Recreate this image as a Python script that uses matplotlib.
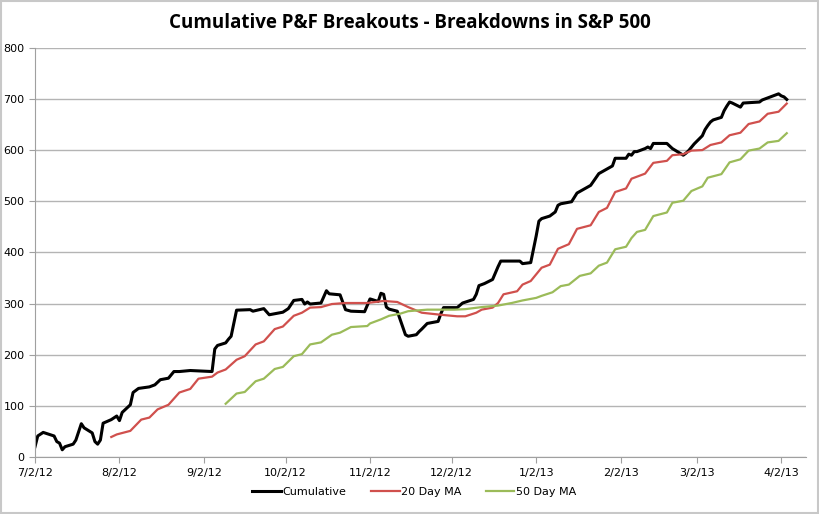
import pandas as pd
import matplotlib
matplotlib.use("Agg")
import matplotlib.pyplot as plt

# Cumulative breakouts minus breakdowns
cum_dates = ["2012-07-02", "2012-07-03", "2012-07-05", "2012-07-09", "2012-07-10", "2012-07-11",
             "2012-07-12", "2012-07-13", "2012-07-16", "2012-07-17", "2012-07-19", "2012-07-20",
             "2012-07-23", "2012-07-24", "2012-07-25", "2012-07-26", "2012-07-27", "2012-07-30",
             "2012-08-01", "2012-08-02", "2012-08-03", "2012-08-06", "2012-08-07", "2012-08-09",
             "2012-08-13", "2012-08-15", "2012-08-17", "2012-08-20", "2012-08-22", "2012-08-24",
             "2012-08-28", "2012-09-05", "2012-09-06", "2012-09-07", "2012-09-10", "2012-09-11",
             "2012-09-12", "2012-09-14", "2012-09-19", "2012-09-20", "2012-09-24", "2012-09-26",
             "2012-09-28", "2012-10-01", "2012-10-03", "2012-10-05", "2012-10-08", "2012-10-09",
             "2012-10-10", "2012-10-11", "2012-10-15", "2012-10-17", "2012-10-18", "2012-10-22",
             "2012-10-24", "2012-10-26", "2012-10-31", "2012-11-02", "2012-11-05", "2012-11-06",
             "2012-11-07", "2012-11-08", "2012-11-09", "2012-11-12", "2012-11-15", "2012-11-16",
             "2012-11-19", "2012-11-20", "2012-11-21", "2012-11-23", "2012-11-27", "2012-11-28",
             "2012-11-29", "2012-12-04", "2012-12-06", "2012-12-10", "2012-12-11", "2012-12-12",
             "2012-12-14", "2012-12-17", "2012-12-19", "2012-12-20", "2012-12-24", "2012-12-27",
             "2012-12-28", "2012-12-31", "2013-01-02", "2013-01-03", "2013-01-04", "2013-01-07",
             "2013-01-09", "2013-01-10", "2013-01-11", "2013-01-15", "2013-01-17", "2013-01-22",
             "2013-01-25", "2013-01-28", "2013-01-30", "2013-01-31", "2013-02-04", "2013-02-05",
             "2013-02-06", "2013-02-07", "2013-02-08", "2013-02-11", "2013-02-12", "2013-02-13",
             "2013-02-14", "2013-02-19", "2013-02-20", "2013-02-21", "2013-02-25", "2013-02-26",
             "2013-02-27", "2013-03-01", "2013-03-04", "2013-03-05", "2013-03-06", "2013-03-07",
             "2013-03-08", "2013-03-11", "2013-03-12", "2013-03-13", "2013-03-14", "2013-03-15",
             "2013-03-18", "2013-03-19", "2013-03-22", "2013-03-25", "2013-03-26", "2013-03-27",
             "2013-03-28", "2013-04-01", "2013-04-02", "2013-04-03", "2013-04-04"]
cum_values = [20, 41, 48, 41, 30, 27,
              14, 20, 25, 33, 65, 57,
              47, 30, 25, 33, 66, 73,
              80, 71, 87, 102, 126, 134,
              137, 141, 151, 154, 167, 167,
              169, 167, 211, 218, 223, 230,
              236, 287, 288, 285, 290, 278,
              280, 283, 290, 306, 308, 299,
              303, 299, 301, 325, 319, 317,
              288, 285, 284, 309, 304, 320,
              318, 293, 289, 285, 239, 236,
              239, 245, 250, 261, 265, 280,
              292, 292, 301, 308, 318, 335,
              339, 347, 372, 383, 383, 383,
              378, 380, 432, 461, 466, 471,
              479, 492, 495, 499, 516, 531,
              554, 563, 569, 584, 584, 592,
              590, 597, 597, 603, 606, 603,
              613, 613, 608, 603, 590, 594,
              599, 612, 628, 640, 648, 655,
              659, 664, 677, 686, 694, 692,
              684, 692, 693, 694, 698, 700,
              702, 710, 706, 704, 699]

ma20_dates = ["2012-07-30", "2012-08-01", "2012-08-06", "2012-08-10", "2012-08-13", "2012-08-16",
              "2012-08-20", "2012-08-24", "2012-08-28", "2012-08-31", "2012-09-05", "2012-09-07",
              "2012-09-10", "2012-09-14", "2012-09-17", "2012-09-21", "2012-09-24", "2012-09-28",
              "2012-10-01", "2012-10-05", "2012-10-08", "2012-10-11", "2012-10-15", "2012-10-19",
              "2012-10-24", "2012-11-01", "2012-11-07", "2012-11-12", "2012-11-16", "2012-11-21",
              "2012-11-28", "2012-12-04", "2012-12-07", "2012-12-11", "2012-12-13", "2012-12-17",
              "2012-12-19", "2012-12-21", "2012-12-26", "2012-12-28", "2012-12-31", "2013-01-04",
              "2013-01-07", "2013-01-10", "2013-01-14", "2013-01-17", "2013-01-22", "2013-01-25",
              "2013-01-28", "2013-01-31", "2013-02-04", "2013-02-06", "2013-02-11", "2013-02-14",
              "2013-02-19", "2013-02-21", "2013-02-25", "2013-02-28", "2013-03-04", "2013-03-07",
              "2013-03-11", "2013-03-14", "2013-03-18", "2013-03-21", "2013-03-25", "2013-03-28",
              "2013-04-01", "2013-04-04"]
ma20_values = [39, 44, 51, 73, 77, 93,
               102, 126, 133, 153, 157, 165,
               171, 190, 197, 220, 226, 250,
               255, 276, 282, 292, 293, 299,
               301, 301, 305, 303, 293, 282,
               278, 275, 275, 282, 288, 292,
               301, 318, 324, 337, 344, 370,
               376, 407, 416, 446, 453, 479,
               487, 518, 525, 544, 554, 575,
               579, 590, 592, 599, 600, 610,
               615, 629, 634, 651, 656, 671,
               675, 691]

ma50_dates = ["2012-09-10", "2012-09-14", "2012-09-17", "2012-09-21", "2012-09-24", "2012-09-28",
              "2012-10-01", "2012-10-05", "2012-10-08", "2012-10-11", "2012-10-15", "2012-10-19",
              "2012-10-22", "2012-10-26", "2012-11-01", "2012-11-02", "2012-11-06", "2012-11-09",
              "2012-11-13", "2012-11-16", "2012-11-23", "2012-12-03", "2012-12-07", "2012-12-13",
              "2012-12-19", "2012-12-24", "2012-12-28", "2013-01-02", "2013-01-04", "2013-01-08",
              "2013-01-11", "2013-01-14", "2013-01-18", "2013-01-22", "2013-01-25", "2013-01-28",
              "2013-01-31", "2013-02-04", "2013-02-06", "2013-02-08", "2013-02-11", "2013-02-14",
              "2013-02-19", "2013-02-21", "2013-02-25", "2013-02-28", "2013-03-04", "2013-03-06",
              "2013-03-11", "2013-03-14", "2013-03-18", "2013-03-21", "2013-03-25", "2013-03-28",
              "2013-04-01", "2013-04-04"]
ma50_values = [104, 124, 127, 148, 153, 172,
               176, 197, 201, 220, 224, 239,
               243, 254, 256, 261, 269, 276,
               280, 285, 288, 288, 289, 293,
               296, 301, 306, 311, 315, 322,
               334, 337, 354, 359, 374, 380,
               406, 411, 428, 440, 444, 471,
               478, 497, 501, 520, 529, 546,
               553, 576, 582, 599, 603, 615,
               618, 633]

tick_dates = pd.date_range("2012-07-01", "2013-04-01", freq="MS") + pd.Timedelta(days=1)

fig = plt.figure(figsize=(8.2, 5.14), dpi=100)
ax = fig.add_axes([0.0427, 0.111, 0.940, 0.796])

ax.plot(pd.to_datetime(cum_dates), cum_values, color="black", lw=2.2, label="Cumulative")
ax.plot(pd.to_datetime(ma20_dates), ma20_values, color="#d0504d", lw=1.6, label="20 Day MA")
ax.plot(pd.to_datetime(ma50_dates), ma50_values, color="#9bbb59", lw=1.6, label="50 Day MA")

ax.set_ylim(0, 800)
ax.set_yticks(range(0, 801, 100))
ax.set_xlim(pd.Timestamp("2012-07-02"), pd.Timestamp("2013-04-11"))
ax.set_xticks(tick_dates)
ax.set_xticklabels([f"{d.month}/{d.day}/{d.strftime('%y')}" for d in tick_dates])

ax.grid(axis="y", color="#b4b4b4", lw=1)
ax.set_axisbelow(True)
for s in ["top", "right"]:
    ax.spines[s].set_visible(False)
for s in ["left", "bottom"]:
    ax.spines[s].set_color("#a0a0a0")
ax.tick_params(axis="both", colors="#a0a0a0", labelcolor="black", labelsize=8, length=4)
ax.tick_params(axis="x", pad=4)

fig.suptitle("Cumulative P&F Breakouts - Breakdowns in S&P 500", fontsize=13.5,
             fontweight="bold", family="Open Sans", y=0.975)

fig.legend(loc="center", bbox_to_anchor=(0.505, 0.043), ncol=3, frameon=False,
           fontsize=8, handlelength=2.6, handletextpad=0.1, columnspacing=2.2)

# outer chart border
fig.patches.append(plt.Rectangle((0.001, 0.001), 0.997, 0.997, transform=fig.transFigure,
                                 fill=False, edgecolor="#c8c8c8", lw=1.5))

fig.savefig("out.png", dpi=100)
